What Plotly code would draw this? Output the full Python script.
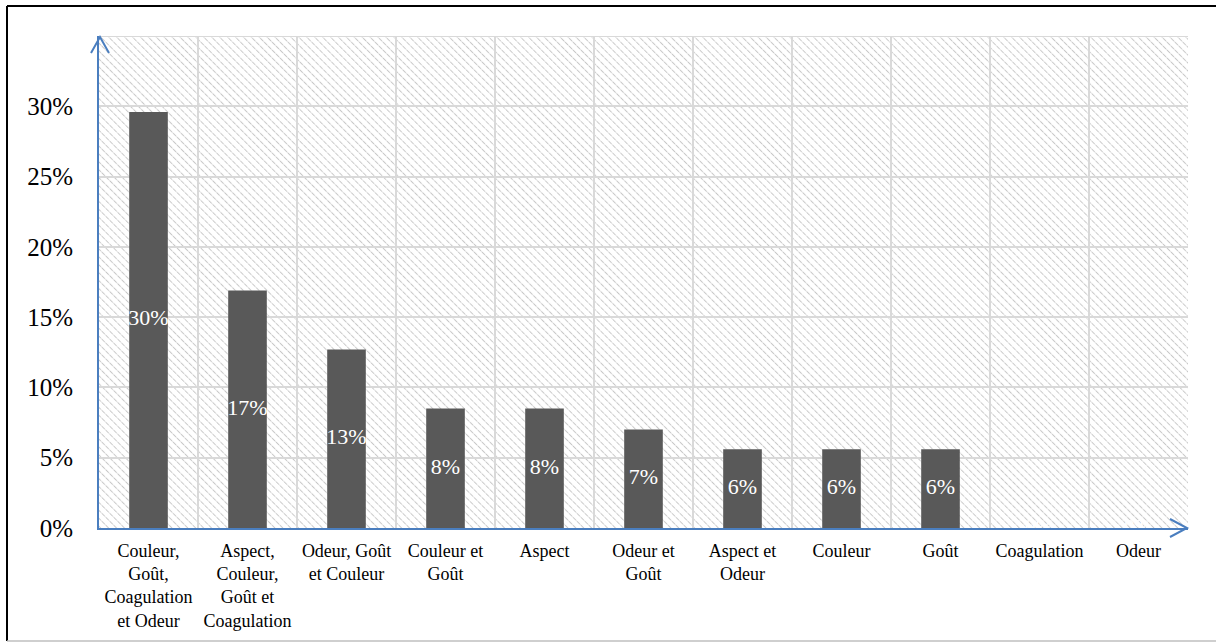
import base64
import plotly.graph_objects as go

# Sensory defects reported (share of samples)
categories = [
    "Couleur,<br>Goût,<br>Coagulation<br>et Odeur",
    "Aspect,<br>Couleur,<br>Goût et<br>Coagulation",
    "Odeur, Goût<br>et Couleur",
    "Couleur et<br>Goût",
    "Aspect",
    "Odeur et<br>Goût",
    "Aspect et<br>Odeur",
    "Couleur",
    "Goût",
    "Coagulation",
    "Odeur",
]
shares = [0.296, 0.169, 0.127, 0.085, 0.085, 0.070, 0.056, 0.056, 0.056, 0.0, 0.0]
y_ticks = [0, 0.05, 0.10, 0.15, 0.20, 0.25, 0.30]
y_max = 0.35

FONT = "Liberation Serif, Times New Roman, serif"
AXIS_BLUE = "#4a7ebf"
GRID = "#d9d9d9"
BAR = "#595959"

W, H = 1216, 642
ML, MR, MT, MB = 99, 28, 36, 114
PW, PH = W - ML - MR, H - MT - MB


def px_x(px):
    return (px - ML) / PW


def px_y(py):
    return (H - MB - py) / PH


# Diagonal hatch used as the plot-area background
hatch_svg = f"""<svg xmlns="http://www.w3.org/2000/svg" width="{PW}" height="{PH}">
<defs><pattern id="h" width="5.6" height="5.6" patternUnits="userSpaceOnUse" patternTransform="rotate(-45)">
<line x1="0" y1="0" x2="0" y2="5.6" stroke="#c8c8c8" stroke-width="2" stroke-dasharray="2.4 0.8"/>
</pattern></defs>
<rect width="100%" height="100%" fill="white"/>
<rect width="100%" height="100%" fill="url(#h)"/>
</svg>"""
hatch_uri = "data:image/svg+xml;base64," + base64.b64encode(hatch_svg.encode()).decode()

fig = go.Figure()

fig.add_trace(go.Bar(
    x=categories,
    y=shares,
    width=0.39,
    marker=dict(color=BAR, line=dict(width=0)),
    hoverinfo="skip",
))

# Value labels centred on each bar
fig.add_trace(go.Scatter(
    x=categories,
    y=[v / 2 for v in shares],
    mode="text",
    text=[f"{round(v * 100):.0f}%" for v in shares],
    textposition="middle center",
    textfont=dict(family=FONT, size=22, color="white"),
    cliponaxis=False,
    hoverinfo="skip",
))

shapes = [
    # top grid line at 35%
    dict(type="line", xref="paper", yref="y", x0=0, x1=1, y0=y_max, y1=y_max,
         line=dict(color=GRID, width=2), layer="below"),
    # axis arrowheads
    dict(type="path", xref="paper", yref="paper",
         path=f"M {px_x(91)} {px_y(53)} L {px_x(100)} {px_y(37)} L {px_x(109)} {px_y(53)}",
         line=dict(color=AXIS_BLUE, width=2)),
    dict(type="path", xref="paper", yref="paper",
         path=f"M {px_x(1170)} {px_y(519)} L {px_x(1187)} {px_y(528)} L {px_x(1170)} {px_y(537)}",
         line=dict(color=AXIS_BLUE, width=2)),
    # frame around the chart
    dict(type="line", xref="paper", yref="paper", x0=px_x(7), x1=px_x(1230), y0=px_y(6), y1=px_y(6),
         line=dict(color="black", width=2)),
    dict(type="line", xref="paper", yref="paper", x0=px_x(7), x1=px_x(7), y0=px_y(6), y1=px_y(641),
         line=dict(color="black", width=2)),
    dict(type="line", xref="paper", yref="paper", x0=px_x(7), x1=px_x(1230), y0=px_y(641), y1=px_y(641),
         line=dict(color="#bfbfbf", width=1.5)),
]

fig.update_layout(
    width=W,
    height=H,
    margin=dict(l=ML, r=MR, t=MT, b=MB, pad=0),
    paper_bgcolor="white",
    plot_bgcolor="rgba(0,0,0,0)",
    showlegend=False,
    font=dict(family=FONT, color="black"),
    images=[dict(source=hatch_uri, xref="paper", yref="paper", x=0, y=1,
                 sizex=1, sizey=1, sizing="stretch", layer="below")],
    shapes=shapes,
    xaxis=dict(
        type="category",
        range=[-0.5, len(categories) - 0.5],
        tickson="boundaries",
        showgrid=True,
        gridcolor=GRID,
        gridwidth=2,
        showline=True,
        linecolor=AXIS_BLUE,
        linewidth=2,
        ticks="",
        tickangle=0,
        tickfont=dict(family=FONT, size=18, color="black"),
        ticklabelstandoff=5,
        fixedrange=True,
    ),
    yaxis=dict(
        range=[0, y_max],
        tickvals=y_ticks,
        tickformat=".0%",
        showgrid=True,
        gridcolor=GRID,
        gridwidth=2,
        zeroline=False,
        showline=True,
        linecolor=AXIS_BLUE,
        linewidth=2,
        ticks="",
        tickfont=dict(family=FONT, size=25, color="black"),
        ticklabelstandoff=19,
        fixedrange=True,
    ),
)

fig.write_html("out.html")
